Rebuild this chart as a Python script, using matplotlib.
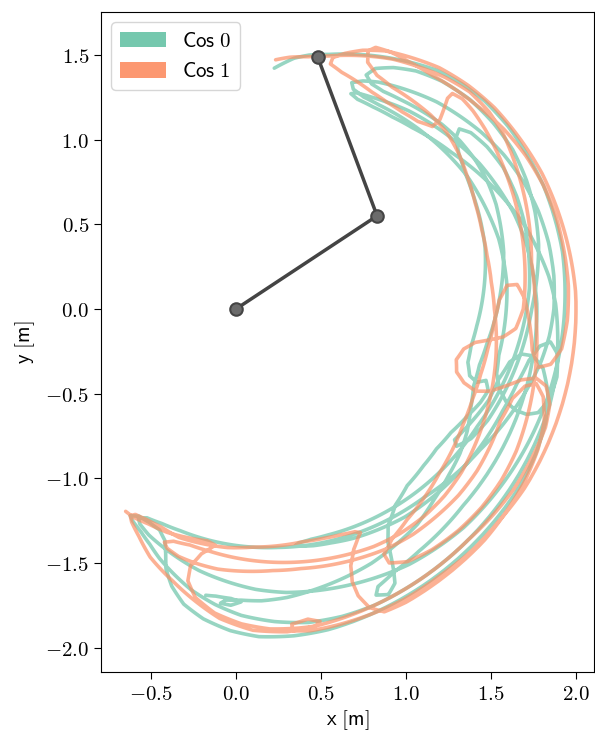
import matplotlib.pyplot as plt
import numpy as np
from matplotlib.patches import Patch, PathPatch
from matplotlib.path import Path
from matplotlib.projections.polar import PolarAxes
from matplotlib.ticker import FixedLocator, FuncFormatter

plt.rcParams["mathtext.fontset"] = "cm"
plt.rcParams["font.size"] = 15
plt.rcParams["path.simplify"] = False

# Tip trajectories, as (angle from +x in degrees, distance from pivot in m).
cos0_path = [
    (81, 1.44), (79, 1.48), (77, 1.52), (74, 1.56), (70, 1.60), (65, 1.66), (60, 1.72), (55, 1.78),
    (50, 1.84), (45, 1.88), (40, 1.91), (34, 1.93), (28, 1.94), (22, 1.95), (16, 1.95), (10, 1.95),
    (4, 1.94), (-2, 1.93), (-8, 1.92), (-14, 1.91), (-20, 1.90), (-26, 1.89), (-32, 1.88), (-38, 1.87),
    (-44, 1.86), (-50, 1.84), (-56, 1.82), (-62, 1.79), (-68, 1.76), (-74, 1.73), (-80, 1.70),
    (-86, 1.66), (-92, 1.61), (-98, 1.56), (-103, 1.51), (-107, 1.47), (-111, 1.43), (-114, 1.39),
    (-115, 1.36), (-113, 1.34), (-109, 1.34), (-104, 1.35),
    (-98, 1.37), (-92, 1.39), (-86, 1.41), (-80, 1.43), (-75, 1.45), (-70, 1.47), (-65, 1.49),
    (-60, 1.51), (-55, 1.53), (-50, 1.55), (-45, 1.57), (-40, 1.60), (-35, 1.63), (-30, 1.66),
    (-25, 1.70), (-20, 1.74), (-15, 1.78), (-10, 1.82), (-5, 1.85), (0, 1.87), (6, 1.88), (12, 1.88),
    (18, 1.87), (24, 1.85), (30, 1.82), (36, 1.78), (41, 1.74), (46, 1.70), (50, 1.66), (54, 1.62),
    (58, 1.58), (61, 1.54), (63, 1.50), (62, 1.47), (59, 1.46), (55, 1.47),
    (50, 1.49), (45, 1.51), (40, 1.53), (35, 1.55), (30, 1.57), (25, 1.58), (20, 1.59), (15, 1.60),
    (10, 1.60), (5, 1.60), (0, 1.59), (-5, 1.58), (-10, 1.57), (-14, 1.58), (-17, 1.62), (-19, 1.68),
    (-20, 1.75), (-20, 1.82), (-19, 1.88), (-16, 1.92), (-12, 1.93), (-8, 1.91), (-6, 1.86),
    (-7, 1.80), (-10, 1.75), (-15, 1.71), (-21, 1.68), (-27, 1.66), (-33, 1.64), (-39, 1.62),
    (-45, 1.60), (-51, 1.58), (-57, 1.55), (-63, 1.52), (-68, 1.49), (-72, 1.47), (-75, 1.45),
    (-76, 1.44), (-75, 1.43), (-72, 1.43), (-68, 1.44),
    (-62, 1.46), (-56, 1.48), (-50, 1.50), (-44, 1.52), (-38, 1.54), (-32, 1.56), (-26, 1.58),
    (-20, 1.61), (-14, 1.64), (-8, 1.67), (-2, 1.70), (4, 1.73), (10, 1.75), (16, 1.77), (22, 1.78),
    (28, 1.78), (33, 1.76), (37, 1.73), (39, 1.69), (38, 1.64), (35, 1.60), (31, 1.57),
    (26, 1.55), (20, 1.53), (14, 1.51), (8, 1.48), (2, 1.45), (-4, 1.42), (-9, 1.40), (-13, 1.40),
    (-16, 1.43), (-17, 1.48), (-16, 1.53), (-18, 1.56), (-21, 1.54), (-25, 1.50), (-30, 1.46),
    (-35, 1.44), (-40, 1.44), (-46, 1.45), (-51, 1.49), (-55, 1.56), (-57, 1.64), (-58, 1.72),
    (-59, 1.80), (-60, 1.87), (-62, 1.91), (-64, 1.88), (-63, 1.84), (-59, 1.81), (-53, 1.79),
    (-47, 1.78), (-41, 1.77), (-35, 1.77), (-29, 1.77), (-23, 1.77), (-17, 1.77), (-11, 1.77),
    (-5, 1.77), (1, 1.77), (7, 1.76), (13, 1.75), (19, 1.73), (25, 1.70), (31, 1.67), (37, 1.63),
    (43, 1.59), (49, 1.55), (54, 1.51), (58, 1.48), (61, 1.46), (62, 1.44), (60, 1.43), (56, 1.44),
    (51, 1.46), (46, 1.49), (41, 1.53), (36, 1.57), (31, 1.62), (26, 1.67), (21, 1.72), (16, 1.77),
    (11, 1.81), (6, 1.85), (1, 1.88), (-5, 1.90), (-11, 1.92), (-17, 1.93), (-23, 1.93), (-29, 1.93),
    (-35, 1.93), (-41, 1.93), (-47, 1.93), (-53, 1.93), (-59, 1.93), (-65, 1.93), (-71, 1.92),
    (-77, 1.90), (-83, 1.86), (-89, 1.81), (-94, 1.75), (-99, 1.68), (-103, 1.61), (-107, 1.54),
    (-110, 1.48), (-113, 1.43), (-116, 1.39), (-117, 1.37), (-115, 1.35), (-112, 1.36), (-109, 1.38),
    (-107, 1.43), (-106, 1.50), (-105, 1.59), (-103, 1.68), (-100, 1.77), (-96, 1.84), (-91, 1.90),
    (-86, 1.94), (-80, 1.96), (-74, 1.97), (-68, 1.97), (-62, 1.97), (-56, 1.97), (-50, 1.97),
    (-44, 1.97), (-38, 1.97), (-32, 1.97), (-26, 1.96), (-20, 1.94), (-15, 1.90), (-11, 1.84),
    (-9, 1.77), (-9, 1.70), (-11, 1.64), (-15, 1.60), (-20, 1.58), (-24, 1.55), (-28, 1.52),
    (-31, 1.50), (-32, 1.53), (-29, 1.58), (-24, 1.62), (-18, 1.65), (-12, 1.68), (-6, 1.71),
    (0, 1.74), (6, 1.78), (12, 1.82), (18, 1.85), (24, 1.87), (30, 1.88), (36, 1.87), (42, 1.85),
    (48, 1.81), (53, 1.76), (57, 1.70), (60, 1.64), (61, 1.58), (59, 1.55), (56, 1.55), (52, 1.57),
    (47, 1.60), (42, 1.63), (37, 1.65), (32, 1.66), (27, 1.66), (22, 1.65), (17, 1.63), (12, 1.61),
    (7, 1.58), (2, 1.55), (-3, 1.52), (-8, 1.49), (-13, 1.47), (-18, 1.47), (-23, 1.50), (-28, 1.54),
    (-33, 1.57), (-38, 1.59), (-44, 1.62), (-50, 1.66), (-56, 1.68), (-62, 1.70), (-68, 1.71),
    (-74, 1.72), (-80, 1.73), (-85, 1.73), (-89, 1.72), (-92, 1.72), (-93, 1.74), (-91, 1.75),
    (-89, 1.73), (-91, 1.71), (-94, 1.70), (-96, 1.70),
]

cos1_path = [
    (-118.5, 1.36), (-116, 1.37), (-112, 1.37), (-107, 1.38), (-102, 1.38), (-97, 1.38), (-95, 1.40),
    (-98, 1.46), (-100, 1.54), (-100, 1.63), (-98, 1.72), (-94, 1.80), (-89, 1.86), (-84, 1.90),
    (-79, 1.92), (-76, 1.93), (-75, 1.91), (-77, 1.88), (-80, 1.89), (-80, 1.93), (-77, 1.95),
    (-72, 1.96), (-66, 1.97), (-60, 1.98), (-53, 1.98), (-46, 1.99), (-39, 1.99), (-32, 2.00),
    (-25, 2.00), (-18, 2.00), (-11, 2.00), (-4, 2.00), (3, 2.00), (10, 1.99), (17, 1.98), (24, 1.97),
    (31, 1.95), (38, 1.93), (44, 1.90), (50, 1.86), (55, 1.81), (60, 1.76), (64, 1.70), (67, 1.64),
    (69, 1.59), (69, 1.55), (66, 1.53), (62, 1.52), (58, 1.51), (54, 1.51), (50, 1.52), (46, 1.54),
    (43, 1.58), (43, 1.64), (44, 1.70), (45, 1.76), (45, 1.80), (43, 1.82), (40, 1.82), (36, 1.81),
    (30, 1.79), (24, 1.77), (18, 1.75), (12, 1.73), (6, 1.71), (0, 1.69), (-4, 1.65), (-6, 1.58),
    (-7, 1.50), (-8, 1.42), (-10, 1.36), (-13, 1.33), (-16, 1.35), (-18, 1.41), (-19, 1.49),
    (-18, 1.57), (-16, 1.65), (-14, 1.73), (-13, 1.81), (-14, 1.88), (-17, 1.93), (-21, 1.95),
    (-27, 1.95), (-33, 1.95), (-39, 1.94), (-45, 1.93), (-51, 1.93), (-57, 1.93), (-63, 1.93),
    (-69, 1.93), (-75, 1.93), (-81, 1.93), (-87, 1.90), (-93, 1.83), (-98, 1.74), (-103, 1.65),
    (-109, 1.55), (-113, 1.46), (-116, 1.40), (-117, 1.37), (-116, 1.35), (-113, 1.35), (-109, 1.36),
    (-104, 1.39), (-98, 1.40), (-92, 1.41), (-86, 1.41), (-80, 1.42), (-74, 1.43), (-69, 1.45),
    (-65, 1.47), (-62, 1.49), (-61, 1.51), (-62, 1.53), (-64, 1.58), (-66, 1.66), (-67, 1.75),
    (-67, 1.84), (-66, 1.93), (-64, 1.99), (-60, 2.00), (-55, 2.00), (-49, 2.00), (-43, 2.00),
    (-37, 1.99), (-31, 1.98), (-25, 1.96), (-20, 1.93), (-16, 1.88), (-14, 1.82), (-15, 1.76),
    (-18, 1.71), (-23, 1.69), (-28, 1.70), (-34, 1.71), (-40, 1.71), (-46, 1.70), (-52, 1.69),
    (-58, 1.67), (-64, 1.64), (-70, 1.61), (-76, 1.58), (-82, 1.56), (-88, 1.55), (-94, 1.54),
    (-99, 1.52), (-103, 1.50), (-106, 1.47), (-107, 1.44), (-105, 1.42), (-101, 1.42),
    (-96, 1.44), (-90, 1.47), (-84, 1.50), (-78, 1.53), (-72, 1.56), (-66, 1.59), (-60, 1.62),
    (-54, 1.64), (-48, 1.65), (-42, 1.65), (-36, 1.64), (-30, 1.62), (-24, 1.60), (-18, 1.58),
    (-12, 1.56), (-6, 1.54), (0, 1.52), (6, 1.51), (12, 1.51), (18, 1.52), (24, 1.54), (30, 1.57),
    (35, 1.60), (40, 1.62), (45, 1.62), (50, 1.61), (55, 1.60), (59, 1.61), (62, 1.65), (63, 1.71),
    (62, 1.75), (59, 1.77), (55, 1.78), (50, 1.80), (45, 1.83), (40, 1.86), (34, 1.90), (28, 1.93),
    (22, 1.95), (16, 1.96), (10, 1.96), (4, 1.96), (-2, 1.95), (-7, 1.93), (-10, 1.88), (-11, 1.81),
    (-8, 1.76), (-3, 1.73), (2, 1.70), (5, 1.66), (5, 1.60), (2, 1.55), (-3, 1.52), (-9, 1.50),
    (-15, 1.49), (-21, 1.49), (-27, 1.50), (-33, 1.52), (-39, 1.54), (-45, 1.57), (-51, 1.60),
    (-56, 1.64), (-59, 1.69), (-59, 1.75), (-56, 1.80), (-51, 1.83), (-45, 1.85), (-39, 1.86),
    (-33, 1.86), (-27, 1.85), (-21, 1.83), (-15, 1.81), (-9, 1.79), (-3, 1.77), (3, 1.76),
    (9, 1.76), (15, 1.79), (21, 1.82), (27, 1.85), (33, 1.88),
    (38, 1.89), (43, 1.88), (48, 1.84), (53, 1.79), (58, 1.74), (62, 1.69), (66, 1.64), (70, 1.59),
    (74, 1.55), (78, 1.52), (80, 1.50), (81, 1.49),
]

# pendulum pose drawn over the traces: pivot, elbow, tip (m)
arm_x = [0.0, 0.83, 0.48]
arm_y = [0.0, 0.55, 1.49]

series_labels = ["Cos 0", "Cos 1"]
series_colors = ["#66c2a5", "#fc8d62"]

x_ticks = [-0.5, 0.0, 0.5, 1.0, 1.5, 2.0]
y_ticks = [-2.0, -1.5, -1.0, -0.5, 0.0, 0.5, 1.0, 1.5]


def polar_transform():
    try:
        return PolarAxes.PolarTransform(apply_theta_transforms=False)
    except TypeError:
        return PolarAxes.PolarTransform()


fig = plt.figure(figsize=(5.95, 7.41), dpi=100)
ax = fig.add_axes([101 / 595, 1 - 672 / 741, 493 / 595, 660 / 741])

# the traces are given in (angle, radius), so let matplotlib's polar transform
# draw them: it sweeps each segment as a proper arc/spiral instead of a chord
to_data = polar_transform() + ax.transData
for pts, color in zip([cos0_path, cos1_path], series_colors):
    ang, rad = np.array(pts, dtype=float).T
    path = Path(np.column_stack([np.deg2rad(ang), rad]), _interpolation_steps=12)
    ax.add_patch(PathPatch(path, transform=to_data, fill=False, edgecolor=color,
                           lw=2.6, alpha=0.68, joinstyle="round", capstyle="round"))

ax.plot(arm_x, arm_y, color="#444444", lw=2.5, marker="o", ms=9,
        mfc="#6b6b6b", mec="#444444", mew=1.5, zorder=5)

ax.set_xlim(-0.794, 2.106)
ax.set_ylim(-2.144, 1.754)
ax.xaxis.set_major_locator(FixedLocator(x_ticks))
ax.yaxis.set_major_locator(FixedLocator(y_ticks))
tick_fmt = FuncFormatter(lambda v, pos: f"${v:.1f}$")
ax.xaxis.set_major_formatter(tick_fmt)
ax.yaxis.set_major_formatter(tick_fmt)
ax.tick_params(labelsize=15, length=5)
ax.set_xlabel(r"$\mathsf{x\ [m]}$", fontsize=15, labelpad=3)
ax.set_ylabel(r"$\mathsf{y\ [m]}$", fontsize=15, labelpad=6)

handles = [Patch(facecolor=c, alpha=0.9, edgecolor="none") for c in series_colors]
labels = [r"$\mathsf{" + s.replace(" ", r"\ ") + "}$" for s in series_labels]
ax.legend(handles, labels, loc="upper left", fontsize=15, handlelength=2.2,
          handleheight=0.8, borderpad=0.4, labelspacing=0.5)

fig.savefig("out.png", dpi=100)
